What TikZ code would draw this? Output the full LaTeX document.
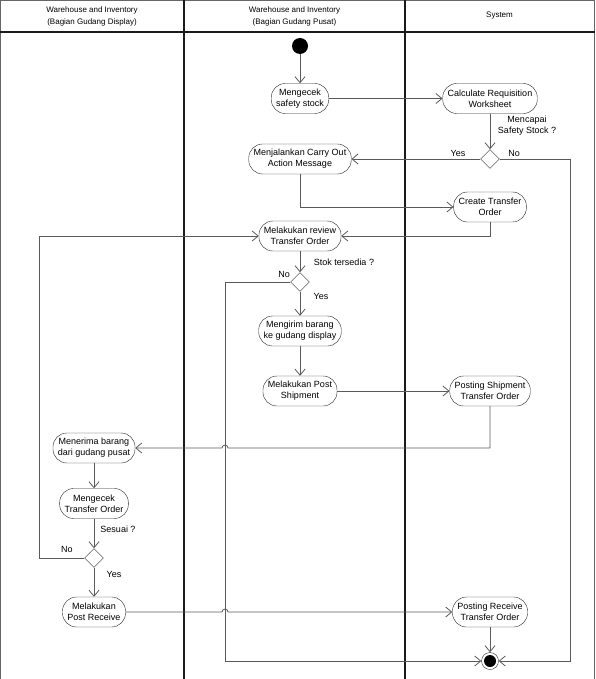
\documentclass[tikz,border=0pt]{standalone}
\usepackage{fontspec}
\setmainfont{Liberation Sans}
\usetikzlibrary{arrows.meta, positioning, shapes.geometric, calc}
\definecolor{linec}{HTML}{5a5a5a}
\definecolor{framec}{HTML}{1a1a1a}

\begin{document}
\begin{tikzpicture}[x=1pt, y=-1pt,
  act/.style={draw=black!85, rounded corners=14pt, minimum height=30pt, inner xsep=5pt, align=center, font=\fontsize{9}{11}\selectfont},
  dec/.style={draw=black!85, diamond, minimum size=19pt, inner sep=0pt},
  lbl/.style={font=\fontsize{9}{11}\selectfont, align=center},
  hd/.style={font=\fontsize{8}{12}\selectfont, align=center},
  arr/.style={-{Straight Barb[length=6pt, width=10pt]}, linec, line width=0.8pt},
  lane/.style={framec, line width=1.6pt}
]
\useasboundingbox (0,0) rectangle (595,679);
% swimlanes
\draw[black!60, line width=1pt] (0.5,679) -- (0.5,0.5) -- (594.5,0.5) -- (594.5,679);
\draw[lane] (0,32) -- (595,32);
\draw[lane] (184,0) -- (184,679);
\draw[lane] (405,0) -- (405,679);
\node[hd] (h1) at (92,16) {Warehouse and Inventory\\(Bagian Gudang Display)};
\node[hd] (h2) at (294.5,16) {Warehouse and Inventory\\(Bagian Gudang Pusat)};
\node[hd] (h3) at (499.5,16) {System};

% activities
\node[circle, fill=black, minimum size=16pt, inner sep=0pt] (start) at (300,46) {};
\node[act] (cek) at (300,98.5) {Mengecek\\safety stock};
\node[act] (calc) at (490,98.5) {Calculate Requisition\\Worksheet};
\node[dec] (d1) at (490,159) {};
\node[act] (carry) at (300,159) {Menjalankan Carry Out\\Action Message};
\node[act] (cto) at (490,207) {Create Transfer\\Order};
\node[act] (review) at (300,236) {Melakukan review\\Transfer Order};
\node[dec] (d2) at (300,282) {};
\node[act] (kirim) at (300,331) {Mengirim barang\\ke gudang display};
\node[act] (pship) at (300,391) {Melakukan Post\\Shipment};
\node[act] (psto) at (490,391) {Posting Shipment\\Transfer Order};
\node[act] (terima) at (94,448) {Menerima barang\\dari gudang pusat};
\node[act] (cekto) at (94,503.5) {Mengecek\\Transfer Order};
\node[dec] (d3) at (94,558) {};
\node[act] (prcv) at (94,612) {Melakukan\\Post Receive};
\node[act] (prto) at (490,612) {Posting Receive\\Transfer Order};
\node[circle, draw=black!85, minimum size=17pt, inner sep=0pt] (end) at (490,661) {};
\fill (end) circle (6pt);

% guards
\node[lbl] (lmc) at (527,126) {Mencapai\\Safety Stock ?};
\node[lbl] (lyes1) at (458,153) {Yes};
\node[lbl] (lno1) at (514,153) {No};
\node[lbl] (lstok) at (344,262) {Stok tersedia ?};
\node[lbl] (lno2) at (284,274) {No};
\node[lbl] (lyes2) at (321,296) {Yes};
\node[lbl] (lsesuai) at (118,529) {Sesuai ?};
\node[lbl] (lno3) at (67,549) {No};
\node[lbl] (lyes3) at (114,574) {Yes};

\coordinate (noR) at (570,159);
\coordinate (noL) at (225,282);
\coordinate (noD) at (39,558);

% flows
\draw[arr] (start) -- (cek);
\draw[arr] (cek) -- (calc);
\draw[arr] (calc) -- (d1);
\draw[arr] (d1) -- (carry);
\draw[arr] (d1.east) -- (noR) |- (end.east);
\draw[arr] (carry.south) |- (cto.west);
\draw[arr] (cto.south) |- (review.east);
\draw[arr] (review) -- (d2);
\draw[arr] (d2.west) -- (noL) |- (end.west);
\draw[arr] (d2) -- (kirim);
\draw[arr] (kirim) -- (pship);
\draw[arr] (pship) -- (psto);
\draw[arr] (psto.south) |- ($(noL |- terima.east)+(3,0)$) arc[start angle=0, end angle=180, radius=3pt] -- (terima.east);
\draw[arr] (terima) -- (cekto);
\draw[arr] (cekto) -- (d3);
\draw[arr] (d3) -- (prcv);
\draw[arr] (d3.west) -- (noD) |- (review.west);
\draw[arr] (prcv.east) -- ($(noL |- prcv.east)+(-3,0)$) arc[start angle=180, end angle=0, radius=3pt] -- (prto.west);
\draw[arr] (prto) -- (end);
\end{tikzpicture}
\end{document}
